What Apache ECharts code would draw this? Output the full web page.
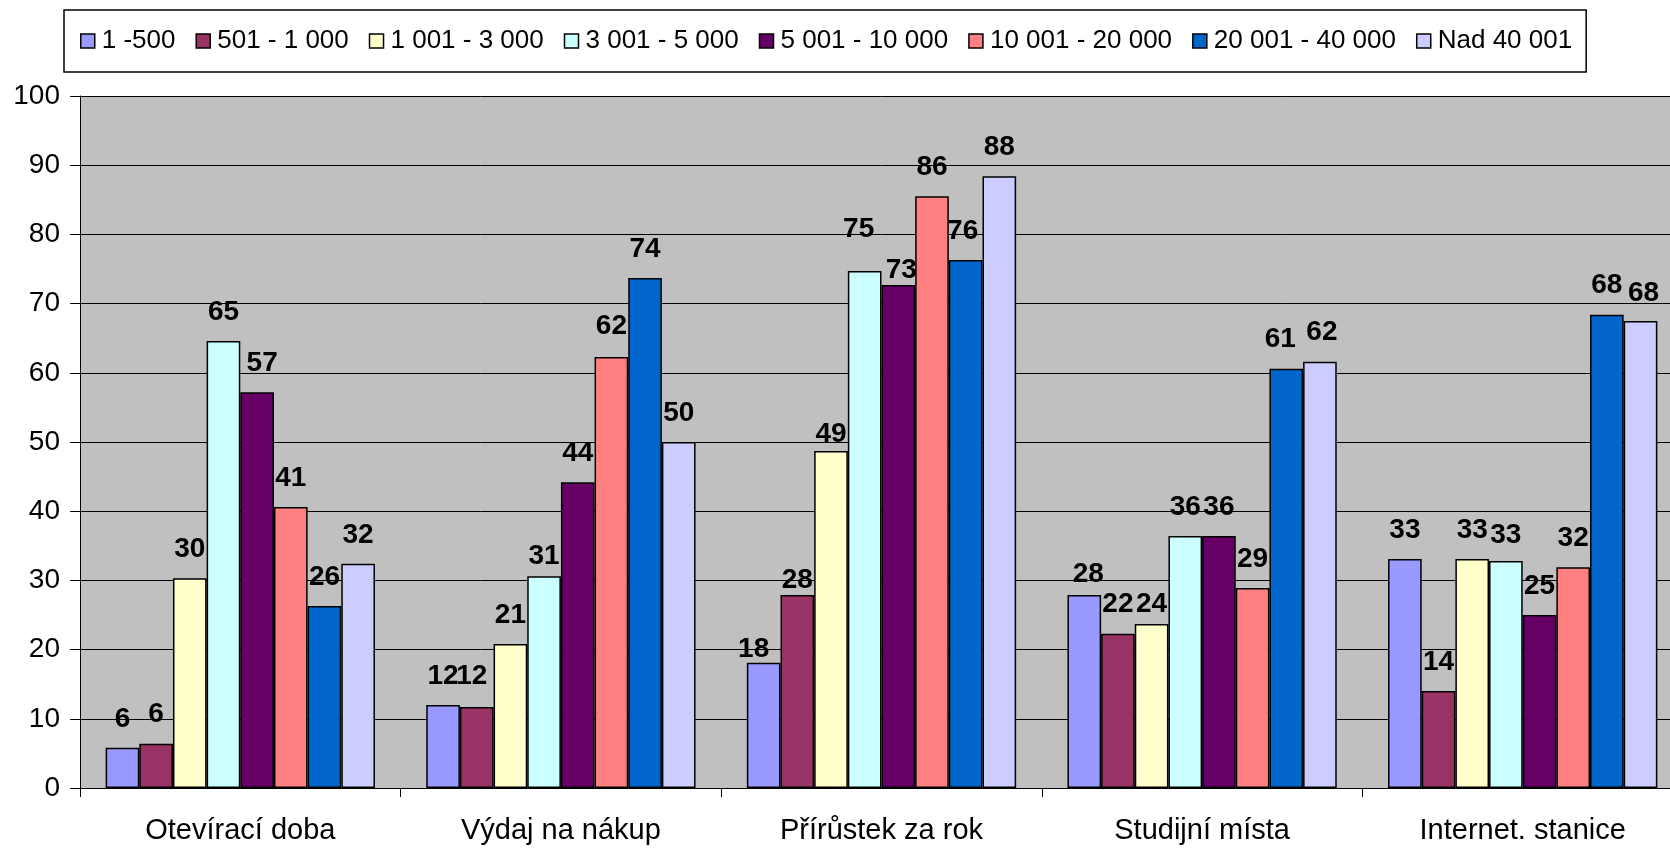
<!DOCTYPE html>
<html><head><meta charset="utf-8">
<script src="https://cdn.jsdelivr.net/npm/echarts@6/dist/echarts.min.js"></script>
<style>html,body{margin:0;padding:0;background:#fff;overflow:hidden}#c{width:1690px;height:850px}</style>
</head><body><div id="c"></div>
<script>
const categories = ['Otevírací doba','Výdaj na nákup','Přírůstek za rok','Studijní místa','Internet. stanice'];
const seriesNames = ['1 -500','501 - 1 000','1 001 - 3 000','3 001 - 5 000','5 001 - 10 000','10 001 - 20 000','20 001 - 40 000','Nad 40 001'];
const s1 = [5.8, 12.0, 18.1, 27.9, 33.1];
const s2 = [6.4, 11.7, 27.9, 22.3, 14.0];
const s3 = [30.3, 20.8, 48.7, 23.7, 33.1];
const s4 = [64.6, 30.6, 74.7, 36.4, 32.8];
const s5 = [57.2, 44.2, 72.7, 36.4, 25.0];
const s6 = [40.6, 62.3, 85.5, 28.9, 31.9];
const s7 = [26.3, 73.7, 76.3, 60.6, 68.4];
const s8 = [32.4, 50.0, 88.4, 61.6, 67.5];
const seriesData = [s1,s2,s3,s4,s5,s6,s7,s8];
const colors = ['#9999FF','#993366','#FFFFCC','#CCFFFF','#660066','#FF8080','#0066CC','#CCCCFF'];
const yTicks = [0,10,20,30,40,50,60,70,80,90,100];

// hand-placed data label nudges as in the original (series index, category index) -> [dx, dy]
const labelNudge = {
  '4,0':[5,0], '1,1':[-5,-2], '3,1':[0,9], '5,1':[0,-2],
  '0,2':[-10,16], '1,2':[0,14], '2,2':[0,12], '3,2':[-6,-13], '4,2':[3,14], '6,2':[-3,0],
  '0,3':[4,8], '2,3':[0,9], '6,3':[-6,0], '7,3':[2,0],
  '3,4':[0,3], '7,4':[3,1]
};

const fontMain = '"Liberation Sans", Arial, sans-serif';
const chart = echarts.init(document.getElementById('c'), null, {renderer:'canvas'});
chart.setOption({
  animation:false,
  backgroundColor:'#ffffff',
  color: colors,
  legend:{
    top:10, left:64,
    padding:[18,14,18,16],
    borderColor:'#000', borderWidth:1.5, backgroundColor:'#fff',
    itemWidth:14, itemHeight:14, itemGap:20,
    icon:'rect',
    itemStyle:{borderColor:'#000', borderWidth:1.5},
    textStyle:{fontFamily:fontMain, fontSize:26, color:'#000', padding:[0,0,0,2]},
    data: seriesNames
  },
  grid:{left:80, top:96, bottom:62, right:7, show:true, backgroundColor:'#C0C0C0', borderWidth:0},
  xAxis:{
    type:'category', data:categories,
    axisLine:{lineStyle:{color:'#000', width:1}},
    axisTick:{show:true, length:9, lineStyle:{color:'#000'}},
    axisLabel:{fontFamily:fontMain, fontSize:29, color:'#000', margin:28}
  },
  yAxis:{
    type:'value', min:0, max:100, interval:10,
    axisLine:{show:true, lineStyle:{color:'#000', width:1}},
    axisTick:{show:true, length:10, lineStyle:{color:'#000'}},
    axisLabel:{fontFamily:fontMain, fontSize:28, color:'#000', margin:20,
      formatter:v=> yTicks.includes(v) ? String(v) : ''},
    splitLine:{show:true, lineStyle:{color:'#000', width:1}}
  },
  series: seriesNames.map((n,i)=>({
    name:n, type:'bar',
    data:seriesData[i].map((v,j)=>{
      const k = labelNudge[i+','+j];
      return k ? {value:v, label:{offset:k}} : v;
    }),
    barGap:'0%', barCategoryGap:'16%',
    itemStyle:{color:colors[i], borderColor:'#000', borderWidth:1.5},
    label:{show:true, position:'top', distance:15, fontFamily:fontMain, fontWeight:'bold', fontSize:28, color:'#000',
      formatter:p=>Math.round(p.value)}
  }))
});
</script></body></html>
